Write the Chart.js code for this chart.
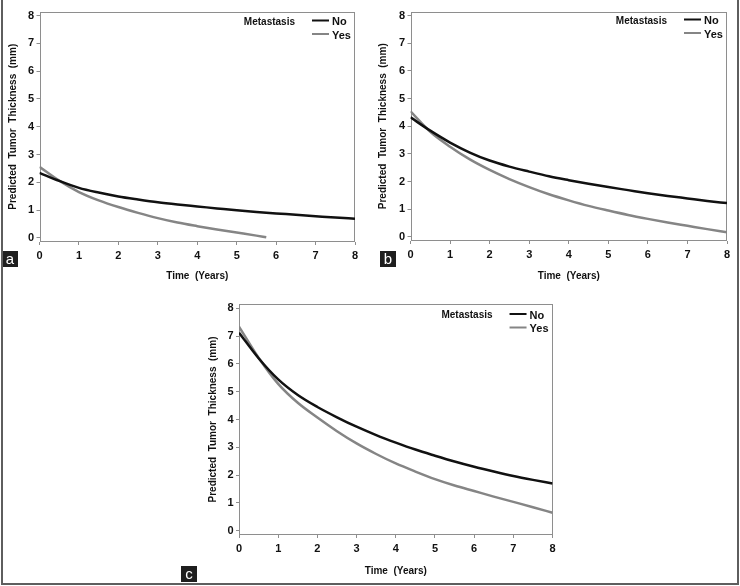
<!DOCTYPE html>
<html><head><meta charset="utf-8">
<script src="https://cdn.jsdelivr.net/npm/chart.js@4.4.1/dist/chart.umd.min.js"></script>
<style>
html,body{margin:0;padding:0;background:#fff;}
#fig{position:relative;width:740px;height:586px;overflow:hidden;background:#fff;}
.panel{position:absolute;}
.panel canvas{display:block;}
.tag{position:absolute;width:16px;height:16px;background:#1e1e1e;color:#fff;font:15px 'Liberation Sans',Arial,sans-serif;text-align:center;line-height:15px;}
#border{position:absolute;left:1px;top:-3px;width:738px;height:588px;box-sizing:border-box;border:2px solid #5e5e5e;}
</style></head><body>
<div id="fig">
  <div class="panel" style="left:0;top:0"><canvas id="ca" width="370" height="290"></canvas></div>
  <div class="panel" style="left:370px;top:0"><canvas id="cb" width="370" height="290"></canvas></div>
  <div class="panel" style="left:190px;top:290px"><canvas id="cc" width="370" height="296"></canvas></div>
  <div class="tag" style="left:2px;top:251px">a</div>
  <div class="tag" style="left:380px;top:251px">b</div>
  <div class="tag" style="left:181px;top:566px">c</div>
  <div id="border"></div>
</div>
<script>
// ---- data ----
const years = [0, 0.5, 1, 1.5, 2, 2.5, 3, 3.5, 4, 4.5, 5, 5.5, 6, 6.5, 7, 7.5, 8];
const yearsAYes = [0, 0.5, 1, 1.5, 2, 2.5, 3, 3.5, 4, 4.5, 5, 5.5, 5.75];
const panelA_No  = [2.34, 2.05, 1.80, 1.63, 1.49, 1.38, 1.28, 1.20, 1.13, 1.06, 0.99, 0.93, 0.88, 0.83, 0.78, 0.73, 0.69];
const panelA_Yes = [2.56, 2.06, 1.65, 1.35, 1.11, 0.90, 0.71, 0.55, 0.42, 0.30, 0.19, 0.08, 0.02];
const panelB_No  = [4.32, 3.84, 3.41, 3.05, 2.76, 2.54, 2.36, 2.19, 2.05, 1.92, 1.80, 1.69, 1.58, 1.48, 1.39, 1.30, 1.22];
const panelB_Yes = [4.54, 3.80, 3.26, 2.80, 2.42, 2.09, 1.80, 1.54, 1.32, 1.12, 0.95, 0.79, 0.65, 0.52, 0.40, 0.28, 0.17];
const panelC_No  = [7.12, 6.20, 5.44, 4.88, 4.45, 4.08, 3.74, 3.44, 3.17, 2.92, 2.70, 2.49, 2.30, 2.13, 1.97, 1.83, 1.70];
const panelC_Yes = [7.34, 6.22, 5.28, 4.60, 4.07, 3.58, 3.14, 2.76, 2.42, 2.13, 1.86, 1.63, 1.43, 1.23, 1.04, 0.85, 0.65];
const seriesLabels = ['No', 'Yes'];
const legendTitle = 'Metastasis';
const xTicks = [0, 1, 2, 3, 4, 5, 6, 7, 8];
const yTicks = [0, 1, 2, 3, 4, 5, 6, 7, 8];
const xTitle = 'Time  (Years)';
const yTitle = 'Predicted  Tumor  Thickness  (mm)';

// ---- drawing ----
const FONT = "'Liberation Sans', Arial, sans-serif";
const pts = (xs, ys) => xs.map((x, i) => ({x: x, y: ys[i]}));

const framePlugin = {
  id: 'frameLegend',
  beforeDatasetsDraw(chart) {
    const {ctx, chartArea: a} = chart;
    ctx.save();
    ctx.strokeStyle = '#8e8e8e';
    ctx.lineWidth = 1;
    const l = Math.round(a.left) + 0.5, t = Math.round(a.top) + 0.5;
    const r = Math.round(a.right) - 0.5, b = Math.round(a.bottom) - 0.5;
    ctx.strokeRect(l, t, r - l, b - t);
    ctx.restore();
  },
  afterDraw(chart) {
    const o = chart.options.plugins.frameLegend;
    const {ctx, chartArea: a} = chart;
    ctx.save();
    ctx.fillStyle = '#111';
    ctx.textBaseline = 'middle';
    ctx.textAlign = 'right';
    ctx.font = 'bold 10px ' + FONT;
    ctx.fillText(legendTitle, a.right - 60, a.top + o.dy);
    chart.data.datasets.forEach((ds, i) => {
      const y = a.top + o.dy + i * 13.5;
      ctx.strokeStyle = ds.borderColor;
      ctx.lineWidth = 2;
      ctx.beginPath();
      ctx.moveTo(a.right - 43, y - 1.5);
      ctx.lineTo(a.right - 26, y - 1.5);
      ctx.stroke();
      ctx.textAlign = 'left';
      ctx.font = 'bold 11px ' + FONT;
      ctx.fillText(ds.label, a.right - 23, y);
    });
    ctx.restore();
  }
};

function makePanel(id, g, noX, noY, yesX, yesY) {
  new Chart(document.getElementById(id), {
    type: 'line',
    data: {
      datasets: [
        {label: seriesLabels[0], data: pts(noX, noY), borderColor: '#111111', borderWidth: 2.5,
         pointRadius: 0, cubicInterpolationMode: 'monotone', fill: false},
        {label: seriesLabels[1], data: pts(yesX, yesY), borderColor: '#858585', borderWidth: 2.5,
         pointRadius: 0, cubicInterpolationMode: 'monotone', fill: false}
      ]
    },
    options: {
      responsive: false, animation: false, devicePixelRatio: 1,
      layout: {padding: {top: g.top, right: g.right, left: 0, bottom: 0}},
      plugins: {legend: {display: false}, tooltip: {enabled: false}, frameLegend: {dy: g.dy}},
      scales: {
        x: {
          type: 'linear', min: 0, max: 8,
          afterBuildTicks: s => { s.ticks = xTicks.map(v => ({value: v})); },
          afterFit: s => { s.height = g.xh; },
          border: {display: false},
          grid: {drawOnChartArea: false, drawTicks: true, tickLength: 3, tickColor: '#8e8e8e', lineWidth: 1},
          ticks: {color: '#111', font: {family: FONT, size: 11, weight: 'bold'}, padding: 4.4, maxRotation: 0,
                  callback: v => String(v)},
          title: {display: true, text: xTitle, color: '#111', font: {family: FONT, size: 10, weight: 'bold'},
                  padding: {top: 0, bottom: g.xtp}}
        },
        y: {
          type: 'linear', min: -0.15, max: 8.15,
          afterBuildTicks: s => { s.ticks = yTicks.map(v => ({value: v})); },
          afterFit: s => { s.width = g.yw; },
          border: {display: false},
          grid: {drawOnChartArea: false, drawTicks: true, tickLength: 3, tickColor: '#8e8e8e', lineWidth: 1},
          ticks: {color: '#111', font: {family: FONT, size: 11, weight: 'bold'}, padding: 2.5,
                  callback: v => String(v)},
          title: {display: true, text: yTitle, color: '#111', font: {family: FONT, size: 10, weight: 'bold'},
                  padding: {top: g.ytp, bottom: 0}}
        }
      }
    },
    plugins: [framePlugin]
  });
}

makePanel('ca', {top: 11.5, right: 15, xh: 48, yw: 39.5, xtp: 7.3, ytp: 7.3, dy: 10.5}, years, panelA_No, yearsAYes, panelA_Yes);
makePanel('cb', {top: 11.5, right: 13, xh: 49, yw: 40.5, xtp: 8, ytp: 7.3, dy: 9.5}, years, panelB_No, years, panelB_Yes);
makePanel('cc', {top: 14, right: 5, xh: 51, yw: 49, xtp: 8.3, ytp: 17.3, dy: 11.5}, years, panelC_No, years, panelC_Yes);
</script>
</body></html>
